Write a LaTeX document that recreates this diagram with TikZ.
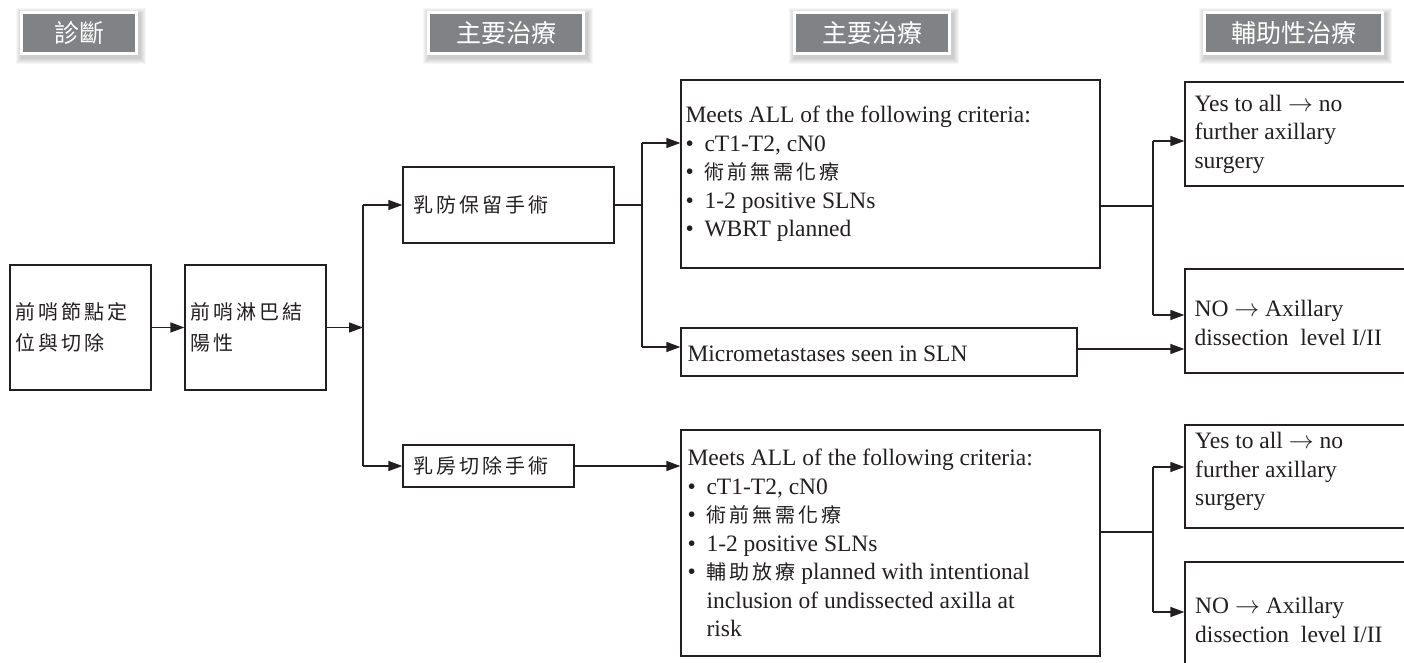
\documentclass[tikz,border=0pt]{standalone}
\usepackage{fontspec}
\setmainfont{Liberation Serif}
\newfontfamily\cjk[LetterSpace=15]{Noto Sans CJK TC}
\newfontfamily\hdfont{Noto Sans CJK TC}
\usetikzlibrary{arrows.meta,fit}

\definecolor{ink}{HTML}{231F20}
\definecolor{hdgray}{HTML}{808285}

\newcommand\zh[1]{{\cjk\fontsize{20}{28.5}\selectfont #1}}
\newcommand\bul{\makebox[19pt][l]{\textbullet}}
\newcommand\ind{\hspace*{19pt}}
\newcommand\ra{\ensuremath{\rightarrow}}

\tikzset{
  box/.style={draw=ink, line width=1.3pt, inner sep=0pt, fill=white},
  txt/.style={inner sep=0pt, align=left, anchor=west, text=ink,
              font=\fontsize{23.5}{28.5}\selectfont},
  zhtxt/.style={inner sep=0pt, align=left, anchor=west, text=ink,
              font=\cjk\fontsize{20}{31}\selectfont},
  ln/.style={draw=ink, line width=1.3pt},
  arr/.style={ln, -{Triangle[length=14pt,width=10pt]}},
  head/.style={fill=hdgray, draw=white, line width=3pt, inner sep=0pt},
  headtxt/.style={text=white, font=\hdfont\fontsize{25}{25}\selectfont},
}

% soft shadow behind a header tab
\newcommand\tabshadow[4]{%
  \foreach \s in {1,...,6}{
    \fill[black, opacity=0.035] (#1-\s+2,#2-\s+3) rectangle (#3+\s+2,#4+\s+3);
  }}

\begin{document}
\begin{tikzpicture}[x=1pt,y=-1pt]
\useasboundingbox (0,0) rectangle (1404,663);
\clip (0,0) rectangle (1404,663);

% ---- column headers ----
\tabshadow{20}{11}{138}{55}
\tabshadow{427}{11}{585}{55}
\tabshadow{793}{11}{951}{55}
\tabshadow{1203}{11}{1384}{55}
\node[head, fit={(21.5,12.5) (136.5,53.5)}] (h1) {};
\node[headtxt] at (h1.center) {診斷};
\node[head, fit={(428.5,12.5) (583.5,53.5)}] (h2) {};
\node[headtxt] at (h2.center) {主要治療};
\node[head, fit={(794.5,12.5) (949.5,53.5)}] (h3) {};
\node[headtxt] at (h3.center) {主要治療};
\node[head, fit={(1204.5,12.5) (1382.5,53.5)}] (h4) {};
\node[headtxt] at (h4.center) {輔助性治療};

% ---- diagnosis ----
\node[box, fit={(10,265) (151,390)}] (a) {};
\node[zhtxt] at ([xshift=6]a.west) {前哨節點定\\位與切除};
\node[box, fit={(185,265) (326,390)}] (b) {};
\node[zhtxt] at ([xshift=6]b.west) {前哨淋巴結\\陽性};

% ---- surgery choice ----
\node[box, fit={(403,167) (614,243)}] (c) {};
\node[zhtxt] at ([xshift=11]c.west) {乳防保留手術};
\node[box, fit={(403,445) (574,487)}] (d) {};
\node[zhtxt] at ([xshift=11]d.west) {乳房切除手術};

% ---- criteria ----
\node[box, fit={(681,80) (1100,268)}] (m1) {};
\node[txt] at ([xshift=5]m1.west) {Meets ALL of the following criteria:\\
\bul cT1-T2, cN0\\
\bul \zh{術前無需化療}\\
\bul 1-2 positive SLNs\\
\bul WBRT planned};

\node[box, fit={(681,328) (1077,376)}] (mi) {};
\node[txt] at ([xshift=7,yshift=-2]mi.west) {Micrometastases seen in SLN};

\node[box, fit={(681,430) (1100,656)}] (m2) {};
\node[txt] at ([xshift=7]m2.west) {Meets ALL of the following criteria:\\
\bul cT1-T2, cN0\\
\bul \zh{術前無需化療}\\
\bul 1-2 positive SLNs\\
\bul \zh{輔助放療} planned with intentional\\
\ind inclusion of undissected axilla at\\
\ind risk};

% ---- axillary management ----
\node[box, fit={(1185,82) (1420,186)}] (y1) {};
\node[txt] at ([xshift=10]y1.west) {Yes to all \ra{} no\\further axillary\\surgery};
\node[box, fit={(1185,269) (1420,373)}] (n1) {};
\node[txt] at ([xshift=10,yshift=-2]n1.west) {NO \ra{} Axillary\\dissection\ \ level I/II};
\node[box, fit={(1185,425) (1420,528)}] (y2) {};
\node[txt, anchor=north west] at (1195,432) {Yes to all \ra{} no\\further axillary\\surgery};
\node[box, fit={(1185,562) (1420,680)}] (n2) {};
\node[txt, anchor=north west] at (1195,597) {NO \ra{} Axillary\\dissection\ \ level I/II};

% ---- connectors ----
\draw[arr] (a.east) -- (b.west);
\coordinate (tk) at (363,327.5);
\coordinate (tkt) at (363,205);
\coordinate (tkb) at (363,466);
\draw[arr] (b.east) -- (tk);
\draw[ln] (tkt) -- (tkb);
\draw[arr] (tkt) -- (c.west);
\draw[arr] (tkb) -- (d.west);

\coordinate (f1t) at (642,143);
\coordinate (f1b) at (642,347);
\coordinate (mo) at (1077,349);
\draw[ln] (c.east) -- (c.east -| f1t);
\draw[ln] (f1t) -- (f1b);
\draw[arr] (f1t) -- (f1t -| m1.west);
\draw[arr] (f1b) -- (f1b -| mi.west);
\draw[arr] (mo) -- (mo -| n1.west);

\draw[arr] (d.east) -- (d.east -| m2.west);

\coordinate (g1t) at (1153,141);
\coordinate (g1m) at (1153,206);
\coordinate (g1b) at (1153,315);
\draw[ln] (m1.east |- g1m) -- (g1m);
\draw[ln] (g1t) -- (g1b);
\draw[arr] (g1t) -- (g1t -| y1.west);
\draw[arr] (g1b) -- (g1b -| n1.west);

\coordinate (g2t) at (1153,467);
\coordinate (g2m) at (1153,532);
\coordinate (g2b) at (1153,612);
\draw[ln] (m2.east |- g2m) -- (g2m);
\draw[ln] (g2t) -- (g2b);
\draw[arr] (g2t) -- (g2t -| y2.west);
\draw[arr] (g2b) -- (g2b -| n2.west);
\end{tikzpicture}
\end{document}
